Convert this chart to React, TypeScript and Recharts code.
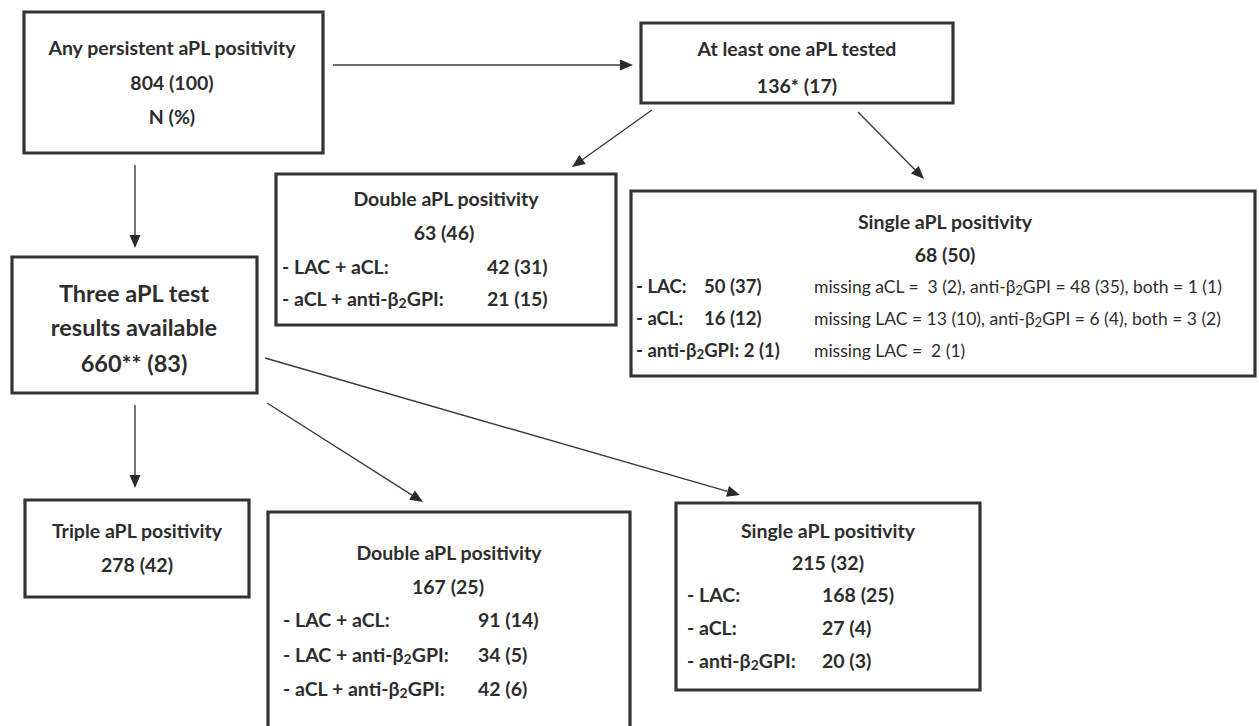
import { ScatterChart, Scatter, XAxis, YAxis, ReferenceArea, ReferenceLine } from "recharts";

const W = 1259;
const H = 726;
const INK = "#2d2d2d";
const FONT = "Lato, 'Open Sans', sans-serif";

// boxes: [x1, y1, x2, y2] in picture units
const boxes = [
  [24, 12, 323, 153],    // any persistent
  [641, 23, 953, 103],   // at least one tested
  [276, 174, 616, 325],  // double (partial)
  [631, 191, 1255, 376], // single (partial)
  [12, 257, 257, 393],   // three results
  [25, 500, 249, 597],   // triple
  [268, 512, 630, 760],  // double (full)
  [676, 503, 980, 690],  // single (full)
];

// arrows: [fromX, fromY, toX, toY]
const arrows = [
  [333, 65, 633, 65],
  [135, 165, 135, 248],
  [652, 110, 572, 167],
  [858, 112, 924, 179],
  [135, 405, 135, 488],
  [267, 403, 423, 502],
  [265, 358, 740, 495],
];

const T = 19.5; // title / main size
const R = 17.5; // regular rows in the wide box
const RB = 18.5; // bold rows in the wide box

// text lines: x, y, text, size, weight, anchor  ("_2" = subscript 2)
const texts = [
  { x: 172, y: 47, t: "Any persistent aPL positivity", s: T, w: 700, a: "middle" },
  { x: 172, y: 82, t: "804 (100)", s: T, w: 700, a: "middle" },
  { x: 172, y: 116, t: "N (%)", s: T, w: 700, a: "middle" },

  { x: 797, y: 48, t: "At least one aPL tested", s: T, w: 700, a: "middle" },
  { x: 797, y: 85, t: "136* (17)", s: T, w: 700, a: "middle" },

  { x: 446, y: 198, t: "Double aPL positivity", s: T, w: 700, a: "middle" },
  { x: 444, y: 232, t: "63 (46)", s: T, w: 700, a: "middle" },
  { x: 282, y: 266, t: "- LAC + aCL:", s: T, w: 700, a: "start" },
  { x: 487, y: 266, t: "42 (31)", s: T, w: 700, a: "start" },
  { x: 282, y: 298, t: "- aCL + anti-β_2GPI:", s: T, w: 700, a: "start" },
  { x: 487, y: 298, t: "21 (15)", s: T, w: 700, a: "start" },

  { x: 945, y: 221, t: "Single aPL positivity", s: T, w: 700, a: "middle" },
  { x: 945, y: 254, t: "68 (50)", s: T, w: 700, a: "middle" },
  { x: 636, y: 286, t: "- LAC:", s: RB, w: 700, a: "start" },
  { x: 704, y: 286, t: "50 (37)", s: RB, w: 700, a: "start" },
  { x: 814, y: 286, t: "missing aCL =  3 (2), anti-β_2GPI = 48 (35), both = 1 (1)", s: R, w: 400, a: "start" },
  { x: 636, y: 318, t: "- aCL:", s: RB, w: 700, a: "start" },
  { x: 704, y: 318, t: "16 (12)", s: RB, w: 700, a: "start" },
  { x: 814, y: 318, t: "missing LAC = 13 (10), anti-β_2GPI = 6 (4), both = 3 (2)", s: R, w: 400, a: "start" },
  { x: 636, y: 350, t: "- anti-β_2GPI: 2 (1)", s: RB, w: 700, a: "start" },
  { x: 814, y: 350, t: "missing LAC =  2 (1)", s: R, w: 400, a: "start" },

  { x: 134, y: 293, t: "Three aPL test", s: 23.5, w: 700, a: "middle" },
  { x: 134, y: 327, t: "results available", s: 23.5, w: 700, a: "middle" },
  { x: 134, y: 363, t: "660** (83)", s: 23.5, w: 700, a: "middle" },

  { x: 137, y: 530, t: "Triple aPL positivity", s: T, w: 700, a: "middle" },
  { x: 137, y: 564, t: "278 (42)", s: T, w: 700, a: "middle" },

  { x: 449, y: 552, t: "Double aPL positivity", s: T, w: 700, a: "middle" },
  { x: 448, y: 586, t: "167 (25)", s: T, w: 700, a: "middle" },
  { x: 283, y: 619, t: "- LAC + aCL:", s: T, w: 700, a: "start" },
  { x: 478, y: 619, t: "91 (14)", s: T, w: 700, a: "start" },
  { x: 283, y: 654, t: "- LAC + anti-β_2GPI:", s: T, w: 700, a: "start" },
  { x: 478, y: 654, t: "34 (5)", s: T, w: 700, a: "start" },
  { x: 283, y: 688, t: "- aCL + anti-β_2GPI:", s: T, w: 700, a: "start" },
  { x: 478, y: 688, t: "42 (6)", s: T, w: 700, a: "start" },

  { x: 828, y: 530, t: "Single aPL positivity", s: T, w: 700, a: "middle" },
  { x: 828, y: 562, t: "215 (32)", s: T, w: 700, a: "middle" },
  { x: 687, y: 594, t: "- LAC:", s: T, w: 700, a: "start" },
  { x: 822, y: 594, t: "168 (25)", s: T, w: 700, a: "start" },
  { x: 687, y: 627, t: "- aCL:", s: T, w: 700, a: "start" },
  { x: 822, y: 627, t: "27 (4)", s: T, w: 700, a: "start" },
  { x: 687, y: 660, t: "- anti-β_2GPI:", s: T, w: 700, a: "start" },
  { x: 822, y: 660, t: "20 (3)", s: T, w: 700, a: "start" },
];

function renderParts(t: string) {
  const parts = t.split("_2");
  const out: any[] = [];
  parts.forEach((p, i) => {
    if (i > 0) {
      out.push(<tspan key={`s${i}`} dy="0.28em" fontSize="0.72em">2</tspan>);
      out.push(<tspan key={`p${i}`} dy="-0.2em">{p}</tspan>);
    } else {
      out.push(<tspan key={`p${i}`}>{p}</tspan>);
    }
  });
  return out;
}

function TextShape(props: any) {
  const { cx, cy, payload } = props;
  return (
    <text
      x={cx}
      y={cy}
      textAnchor={payload.a}
      dominantBaseline="central"
      fontFamily={FONT}
      fontSize={payload.s}
      fontWeight={payload.w}
      fill={INK}
      style={{ whiteSpace: "pre" }}
    >
      {renderParts(payload.t)}
    </text>
  );
}

function Arrow(props: any) {
  const { x1, y1, x2, y2 } = props;
  const ang = Math.atan2(y2 - y1, x2 - x1);
  const len = 13;
  const hw = 5.5;
  const bx = x2 - len * Math.cos(ang);
  const by = y2 - len * Math.sin(ang);
  const px = -Math.sin(ang) * hw;
  const py = Math.cos(ang) * hw;
  return (
    <g>
      <line x1={x1} y1={y1} x2={bx} y2={by} stroke="#3a3a3a" strokeWidth={1.4} />
      <polygon points={`${x2},${y2} ${bx + px},${by + py} ${bx - px},${by - py}`} fill="#2a2a2a" />
    </g>
  );
}

export default function App() {
  return (
    <div style={{ position: "absolute", left: 0, top: 0, width: W, height: H, background: "#fff" }}>
      <ScatterChart width={W} height={H} margin={{ top: 0, right: 0, bottom: 0, left: 0 }}>
        <XAxis type="number" dataKey="x" domain={[0, W]} hide />
        <YAxis type="number" dataKey="y" domain={[0, H]} reversed hide />
        {boxes.map((b, i) => (
          <ReferenceArea
            key={`b${i}`}
            x1={b[0]}
            y1={b[1]}
            x2={b[2]}
            y2={b[3]}
            fill="#fff"
            fillOpacity={1}
            stroke="#333"
            strokeWidth={3.2}
            ifOverflow="visible"
          />
        ))}
        {arrows.map((a, i) => (
          <ReferenceLine
            key={`a${i}`}
            segment={[{ x: a[0], y: a[1] }, { x: a[2], y: a[3] }]}
            ifOverflow="visible"
            shape={Arrow}
          />
        ))}
        <Scatter data={texts} dataKey="y" shape={TextShape} isAnimationActive={false} />
      </ScatterChart>
    </div>
  );
}
